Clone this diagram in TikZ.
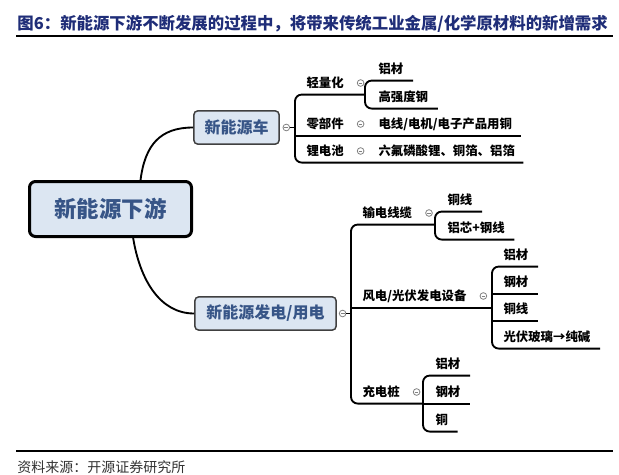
\documentclass[tikz,border=0pt]{standalone}
\usepackage{fontspec}
\setmainfont{Noto Sans CJK SC}
\usetikzlibrary{positioning}

\definecolor{titleblue}{RGB}{31,45,120}
\definecolor{boxfill}{RGB}{220,230,242}
\definecolor{boxtext}{RGB}{55,85,135}
\definecolor{foldgray}{RGB}{130,130,130}

\tikzset{every picture/.style={line width=0.75pt}}
\tikzset{
  rootbox/.style={draw=black, line width=2.25pt, fill=boxfill, rounded corners=4.5pt, text=boxtext, inner sep=0pt, font=\fontsize{16.8}{20}\selectfont\bfseries, minimum width=121.5pt, minimum height=41.25pt},
  subbox/.style={draw=black!75, line width=1.1pt, fill=boxfill, rounded corners=3pt, text=boxtext, inner sep=0pt, font=\fontsize{12}{14}\selectfont\bfseries, minimum height=25pt},
  topic/.style={anchor=west, inner xsep=0pt, inner ysep=3.9pt, text height=7.9pt, text depth=0.9pt, font=\fontsize{9.3}{11}\selectfont\bfseries},
  fold/.style={circle, draw=foldgray, fill=white, line width=0.6pt, minimum size=5pt, inner sep=0pt, path picture={\draw[foldgray, line width=0.6pt] ([xshift=-1.4pt]path picture bounding box.center) -- ([xshift=1.4pt]path picture bounding box.center);}},
  branch/.style={line width=1.4pt, rounded corners=5pt},
  link/.style={line width=1.4pt},
}

\begin{document}
\begin{tikzpicture}[x=0.75pt,y=0.75pt,yscale=-1,xscale=1]
	\useasboundingbox (0,0) rectangle (619,475);
	\fill[white] (0,0) rectangle (619,475);
	
	% Title and rules
	\node[anchor=west, inner sep=0pt, text=titleblue, font=\fontsize{12.3}{14}\selectfont\bfseries] (title) at (17,24) {图6：新能源下游不断发展的过程中，将带来传统工业金属/化学原材料的新增需求};
	\draw[line width=1.1pt] (16,36) -- (613,36);
	\draw[line width=1.1pt] (16,451) -- (613,451);
	\node[anchor=west, inner sep=0pt, text=black!80, font=\fontsize{10.5}{12}\selectfont] (source) at (17,467) {资料来源：开源证券研究所};
	
	% Root and main topics
	\node[rootbox] (root) at (110.5,209) {新能源下游};
	\node[subbox, minimum width=64pt] (car) at (236.5,127.5) {新能源车};
	\node[subbox, minimum width=106pt] (power) at (265.5,313.5) {新能源发电/用电};
	\node[fold, right=2pt of car] (c-car) {};
	\node[fold, right=1.5pt of power] (c-pow) {};
	
	\draw[link] (root.44) .. controls (145,145) and (160,127.5) .. (car.west);
	\draw[link] (root.-52) .. controls (140,280) and (160,313.5) .. (power.west);
	
	% New energy vehicles
	\coordinate (sp-car) at (295,127.5);
	\coordinate (sp-qlh) at (365,0);
	\node[topic] (qlh) at (306,83) {轻量化};
	\node[fold, right=9.5pt of qlh] (c-qlh) {};
	\node[topic] (lc1) at (378,69) {铝材};
	\node[topic] (gqdg) at (378,97) {高强度钢};
	\node[topic] (ljj) at (306,124) {零部件};
	\node[fold, right=9.5pt of ljj] (c-ljj) {};
	\node[topic] (dxdj) at (378,124) {电线/电机/电子产品用铜};
	\node[topic] (ldc) at (306,151) {锂电池};
	\node[fold, right=9.5pt of ldc] (c-ldc) {};
	\node[topic] (lfp) at (378,151) {六氟磷酸锂、铜箔、铝箔};
	
	\draw[link] (c-car) -- (sp-car);
	\draw[branch] (sp-qlh |- qlh.south) -- (sp-car |- qlh.south) -- (sp-car |- ldc.south) -- ([xshift=6pt]lfp.south east);
	\draw[branch] (sp-car |- ljj.south) -- ([xshift=6pt]dxdj.south east);
	\draw[branch] ([xshift=7pt]lc1.south east) -- (sp-qlh |- lc1.south) -- (sp-qlh |- gqdg.south) -- ([xshift=7pt]gqdg.south east);
	
	% New energy power
	\coordinate (sp-pow) at (351,313.5);
	\coordinate (sp-sdxl) at (435,0);
	\coordinate (sp-fg) at (492,0);
	\coordinate (sp-cdz) at (423,0);
	\node[topic] (sdxl) at (362,213) {输电线缆};
	\node[fold, right=9.5pt of sdxl] (c-sdxl) {};
	\node[topic] (tx1) at (447,200) {铜线};
	\node[topic] (lxgx) at (447,228) {铝芯+钢线};
	\node[topic] (fg) at (362,296) {风电/光伏发电设备};
	\node[fold, right=9.5pt of fg] (c-fg) {};
	\node[topic] (lc2) at (503,255) {铝材};
	\node[topic] (gc2) at (503,282) {钢材};
	\node[topic] (tx2) at (503,309) {铜线};
	\node[topic] (gfbl) at (503,337) {光伏玻璃→纯碱};
	\node[topic] (cdz) at (362,392) {充电桩};
	\node[fold, right=9.5pt of cdz] (c-cdz) {};
	\node[topic] (lc3) at (435,364) {铝材};
	\node[topic] (gc3) at (435,392) {钢材};
	\node[topic] (t3) at (435,420) {铜};
	
	\draw[link] (c-pow) -- (sp-pow);
	\draw[branch] (sp-sdxl |- sdxl.south) -- (sp-pow |- sdxl.south) -- (sp-pow |- cdz.south) -- (sp-cdz |- cdz.south);
	\draw[branch] (sp-pow |- fg.south) -- (sp-fg |- fg.south);
	\draw[branch] ([xshift=7pt]tx1.south east) -- (sp-sdxl |- tx1.south) -- (sp-sdxl |- lxgx.south) -- ([xshift=7pt]lxgx.south east);
	\draw[branch] ([xshift=7pt]lc2.south east) -- (sp-fg |- lc2.south) -- (sp-fg |- gfbl.south) -- ([xshift=7pt]gfbl.south east);
	\draw[branch] (sp-fg |- gc2.south) -- ([xshift=7pt]gc2.south east);
	\draw[branch] (sp-fg |- tx2.south) -- ([xshift=7pt]tx2.south east);
	\draw[branch] ([xshift=7pt]lc3.south east) -- (sp-cdz |- lc3.south) -- (sp-cdz |- t3.south) -- ([xshift=7pt]t3.south east);
	\draw[branch] (sp-cdz |- gc3.south) -- ([xshift=7pt]gc3.south east);
	
\end{tikzpicture}
\end{document}
